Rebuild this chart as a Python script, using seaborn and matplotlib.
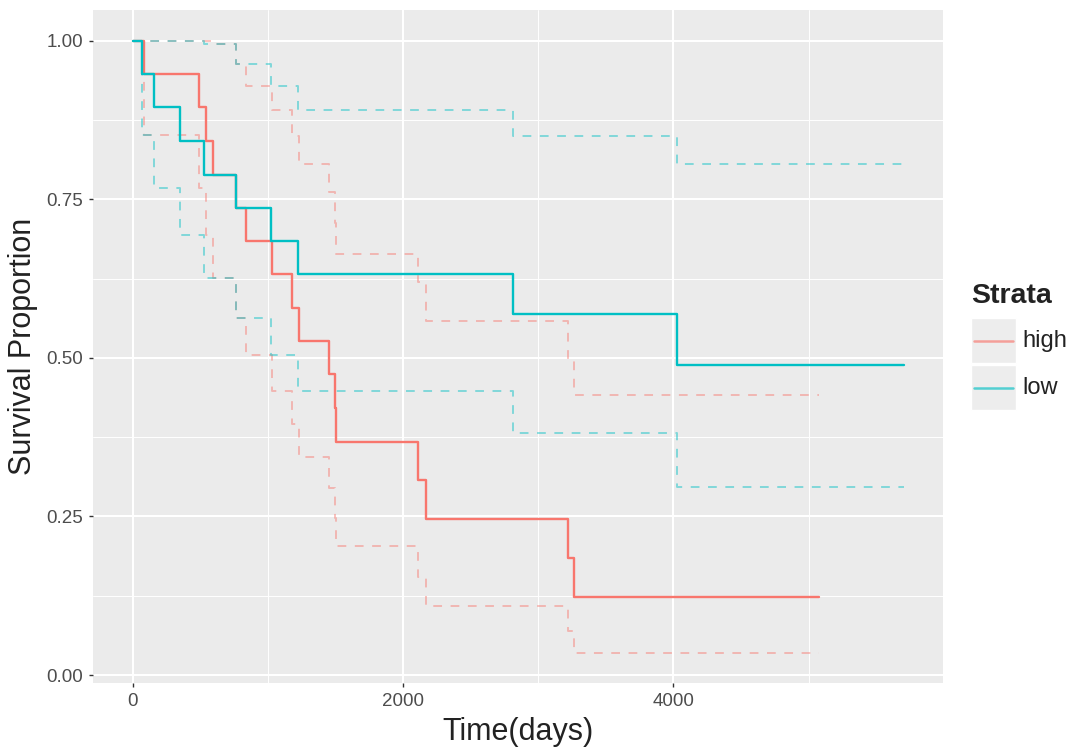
import numpy as np
import pandas as pd
import matplotlib
matplotlib.use("Agg")
import matplotlib.pyplot as plt
from matplotlib.patches import Rectangle
from matplotlib.lines import Line2D
import seaborn as sns

# ---------------- data ----------------
strata = ["high", "low"]
colors = {"high": "#F8766D", "low": "#00BFC4"}

high_time = [0, 81, 487, 539, 595, 760, 834, 1031, 1178, 1228, 1449, 1498, 1505,
             2108, 2170, 3220, 3262, 5077]
high_surv = [1.0, 0.947, 0.895, 0.842, 0.789, 0.737, 0.684, 0.632, 0.579, 0.526,
             0.474, 0.421, 0.368, 0.307, 0.246, 0.184, 0.123, 0.123]
high_upper = [1.0, 1.0, 1.0, 1.0, 0.995, 0.964, 0.928, 0.891, 0.849, 0.806,
              0.761, 0.713, 0.663, 0.619, 0.558, 0.498, 0.441, 0.441]
high_lower = [1.0, 0.852, 0.767, 0.693, 0.626, 0.563, 0.504, 0.448, 0.395, 0.344,
              0.295, 0.248, 0.204, 0.154, 0.109, 0.070, 0.035, 0.035]

low_time = [0, 66, 153, 349, 526, 760, 1018, 1220, 2814, 4027, 5705]
low_surv = [1.0, 0.947, 0.895, 0.842, 0.789, 0.737, 0.684, 0.632, 0.569, 0.488, 0.488]
low_upper = [1.0, 1.0, 1.0, 1.0, 0.995, 0.964, 0.928, 0.891, 0.849, 0.806, 0.806]
low_lower = [1.0, 0.852, 0.767, 0.693, 0.626, 0.563, 0.504, 0.448, 0.381, 0.296, 0.296]

x_ticks = [0, 2000, 4000]
x_tick_labels = ["0", "2000", "4000"]
y_ticks = [0.0, 0.25, 0.5, 0.75, 1.0]
y_tick_labels = ["0.00", "0.25", "0.50", "0.75", "1.00"]

# ---------------- long-form tables ----------------
def frame(name, t, s, lo, up):
    n = len(t)
    return pd.DataFrame({
        "time": list(t) * 3,
        "value": list(s) + list(up) + list(lo),
        "strata": [name] * (3 * n),
        "kind": ["surv"] * n + ["upper"] * n + ["lower"] * n,
    })

df = pd.concat([frame("high", high_time, high_surv, high_lower, high_upper),
                frame("low", low_time, low_surv, low_lower, low_upper)],
               ignore_index=True)
est = df[df["kind"] == "surv"]
ci = df[df["kind"] != "surv"]

# ---------------- figure ----------------
sns.set_theme(style="darkgrid")
plt.rcParams["font.family"] = ["Liberation Sans", "DejaVu Sans"]

W, H = 1075, 751
fig = plt.figure(figsize=(W / 100, H / 100), dpi=100)
fig.patch.set_facecolor("white")
ax = fig.add_axes([93 / W, 1 - 683 / H, (943 - 93) / W, (683 - 10) / H])
ax.set_facecolor("#EBEBEB")

sns.lineplot(data=est, x="time", y="value", hue="strata", palette=colors,
             hue_order=strata, estimator=None, drawstyle="steps-post",
             linewidth=1.7, legend=False, ax=ax, zorder=3)
sns.lineplot(data=ci, x="time", y="value", hue="strata", style="kind",
             palette=colors, hue_order=strata,
             dashes={"upper": (4.5, 4.4), "lower": (4.5, 4.4)},
             estimator=None, drawstyle="steps-post", linewidth=1.4,
             alpha=0.45, legend=False, ax=ax, zorder=2)

ax.set_xlim(-296, 5995)
ax.set_ylim(-0.0126, 1.0484)
ax.set_xticks(x_ticks)
ax.set_xticklabels(x_tick_labels)
ax.set_yticks(y_ticks)
ax.set_yticklabels(y_tick_labels)
ax.set_xticks([1000, 3000, 5000], minor=True)
ax.set_yticks([0.125, 0.375, 0.625, 0.875], minor=True)

ax.grid(True, which="major", color="white", linewidth=1.5)
ax.grid(True, which="minor", color="white", linewidth=0.7)
ax.set_axisbelow(True)
for sp in ax.spines.values():
    sp.set_visible(False)

ax.tick_params(axis="both", which="major", length=3, width=1.0, color="#333333",
               labelcolor="#4D4D4D", labelsize=13.5, pad=4, bottom=True, left=True)
ax.tick_params(axis="both", which="minor", length=0)

ax.set_xlabel("Time(days)", fontsize=22, color="#222222", labelpad=5)
ax.set_ylabel("Survival Proportion", fontsize=22, color="#222222", labelpad=6)

# ---------------- legend (ggplot-like) ----------------
def fx(x):
    return x / W

def fy(y):
    return 1 - y / H

fig.text(fx(971), fy(296), "Strata", fontsize=20.5, fontweight="bold",
         color="#222222", ha="left", va="center")
for i, name in enumerate(strata):
    top = 318 + i * 47
    fig.add_artist(Rectangle((fx(971), fy(top + 45)), 45 / W, 45 / H,
                             transform=fig.transFigure, facecolor="#EDEDED",
                             edgecolor="white", linewidth=1))
    yc = top + 22.5
    fig.add_artist(Line2D([fx(974), fx(1013)], [fy(yc), fy(yc)],
                          transform=fig.transFigure, color=colors[name],
                          linewidth=1.8, alpha=0.65))
    fig.text(fx(1022), fy(yc), name, fontsize=17, color="#222222",
             ha="left", va="center")

fig.savefig("out.png", dpi=100)
